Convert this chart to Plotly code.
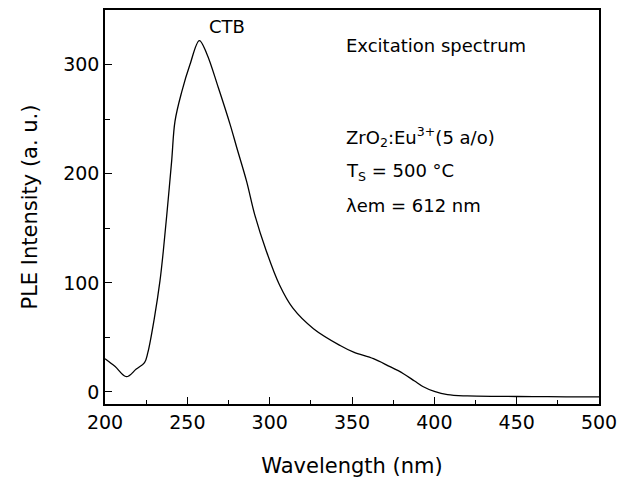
import plotly.graph_objects as go

wavelength = [200, 206, 213, 219, 224, 226, 230, 233.4, 235.4, 237.5, 240.5, 242.5, 246.6, 251.6,
              257.3, 261.8, 268.8, 276, 280, 286, 291, 298, 306, 314, 326.6, 342.8, 351, 363,
              372, 381, 388, 393, 400, 408, 420, 440, 460, 480, 500]
intensity = [30.5, 23.5, 14, 21, 27, 36, 68, 102, 129, 162, 212, 248, 275, 300,
             322, 310, 279, 245, 224, 193, 162, 129, 98, 77, 58, 42.6, 36.5, 30.5,
             24, 17, 10, 5, 0.5, -2.5, -3.6, -4, -4.2, -4.4, -4.5]

x_ticks = [200, 250, 300, 350, 400, 450, 500]
y_ticks = [0, 100, 200, 300]

FONT = "DejaVu Sans"

fig = go.Figure()
fig.add_trace(go.Scatter(x=wavelength, y=intensity, mode="lines",
                         line=dict(color="black", width=1.3, shape="spline", smoothing=1.0),
                         showlegend=False, hoverinfo="skip"))

axis_common = dict(showline=True, linecolor="black", linewidth=1.5, mirror=True,
                   ticks="inside", ticklen=7, tickwidth=1.2, tickcolor="black",
                   showgrid=False, zeroline=False,
                   tickfont=dict(family=FONT, size=19, color="black"))

fig.update_xaxes(range=[200, 500], tickvals=x_ticks,
                 minor=dict(dtick=25, tick0=200, ticks="inside", ticklen=4, tickcolor="black", tickwidth=1.2),
                 title=dict(text="Wavelength (nm)", font=dict(family=FONT, size=21, color="black"), standoff=27),
                 **axis_common)
fig.update_yaxes(range=[-11, 350], tickvals=y_ticks,
                 minor=dict(dtick=50, tick0=0, ticks="inside", ticklen=5, tickcolor="black", tickwidth=1.2),
                 title=dict(text="PLE Intensity (a. u.)", font=dict(family=FONT, size=21, color="black"), standoff=20),
                 **axis_common)

fig.add_annotation(x=257, y=322, text="CTB", showarrow=False, xanchor="left", yanchor="bottom",
                   xshift=8, yshift=2, font=dict(family=FONT, size=18, color="black"))

labels = ["Excitation spectrum", "ZrO<sub>2</sub>:Eu<sup>3+</sup>(5 a/o)",
          "T<sub>S</sub> = 500 °C", "λem = 612 nm"]
label_y = [0.91, 0.677, 0.590, 0.503]
for t, yy in zip(labels, label_y):
    fig.add_annotation(x=0.484, y=yy, xref="paper", yref="paper", text=t, showarrow=False,
                       xanchor="left", yanchor="middle", font=dict(family=FONT, size=18, color="black"))

fig.update_layout(width=635, height=490, margin=dict(l=105, r=36, t=8, b=86),
                  paper_bgcolor="white", plot_bgcolor="white")

fig.write_html("out.html")
